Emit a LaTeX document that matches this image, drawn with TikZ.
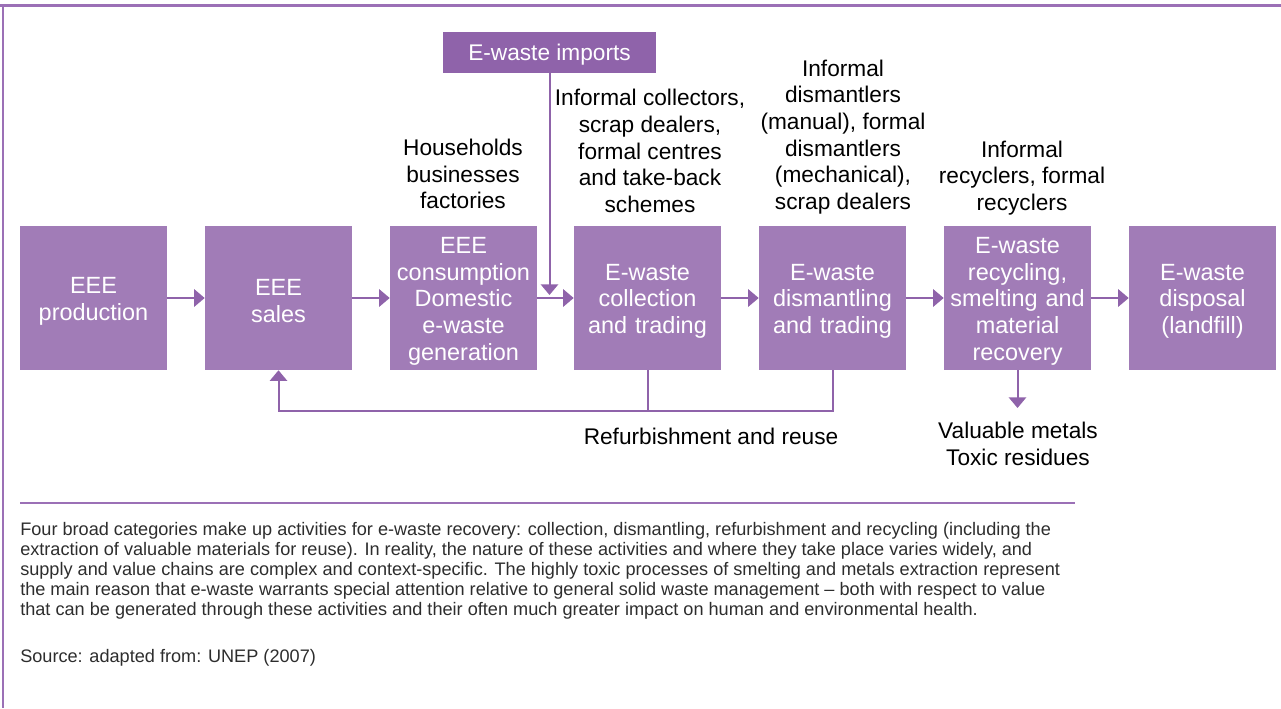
\documentclass[tikz,border=0pt]{standalone}
\usepackage{fontspec}
\setmainfont{Liberation Sans}
\usepackage{tikz}
\usetikzlibrary{arrows.meta,positioning}
\definecolor{boxpurple}{RGB}{161,124,183}
\definecolor{darkpurple}{RGB}{143,99,170}
\definecolor{framepurple}{RGB}{155,112,182}
\definecolor{captiongray}{RGB}{45,45,45}
\tikzstyle{block} = [rectangle,fill=boxpurple,text=white,minimum width=110.25pt,
  minimum height=108pt,text width=106pt,align=center,inner sep=0pt,
  text height=17pt,font=\fontsize{17.6}{20}\selectfont]

\begin{document}
\begin{tikzpicture}[
  x=0.75pt,y=-0.75pt,
  importbox/.style={rectangle,fill=darkpurple,text=white,minimum width=159.75pt,
    minimum height=30.75pt,inner sep=0pt,text depth=0pt,font=\fontsize{17}{20}\selectfont},
  note/.style={align=center,inner sep=0pt,font=\fontsize{17}{20}\selectfont},
  flow/.style={draw=darkpurple,line width=1.8pt,-{Triangle[length=8pt,width=13pt]}},
  loopline/.style={draw=darkpurple,line width=1.5pt},
  caption/.style={align=left,inner sep=0pt,text=captiongray,
    font=\fontsize{13.6}{15}\selectfont}
]
\useasboundingbox (0,0) rectangle (1281,708);
\draw[framepurple,line width=2.25pt] (0,5) -- (1281,5);
\draw[framepurple,line width=1.5pt] (3,5) -- (3,708);

\node[block] (prod) at (93.5,298) {EEE\\production};
\node[block] (sales) at (278.5,298) {EEE\\sales};
\node[block] (cons) at (463.5,298) {EEE\\consumption\\Domestic\\e-waste\\generation};
\node[block] (coll) at (647.5,298) {E-waste\\collection\\and trading};
\node[block] (dism) at (832.5,298) {E-waste\\dismantling\\and trading};
\node[block] (recy) at (1017.5,298) {E-waste\\recycling,\\smelting and\\material\\recovery};
\node[block] (disp) at (1202.5,298) {E-waste\\disposal\\(landfill)};

\node[importbox] (imports) at (549.5,52.5) {E-waste imports};

\node[note] (users) at (463,174) {Households\\businesses\\factories};
\node[note] (collectors) at (650,151) {Informal collectors,\\scrap dealers,\\formal centres\\and take-back\\schemes};
\node[note] (dismantlers) at (843,137) {Informal\\dismantlers\\(manual), formal\\dismantlers\\(mechanical),\\scrap dealers};
\node[note] (recyclers) at (1022,178) {Informal\\recyclers, formal\\recyclers};
\node[note] (reuse) at (711,436) {Refurbishment and reuse};
\node[note] (outputs) at (1018,444) {Valuable metals\\Toxic residues};

\draw[flow] (prod) -- (sales);
\draw[flow] (sales) -- (cons);
\draw[flow] (cons) -- (coll);
\draw[flow] (coll) -- (dism);
\draw[flow] (dism) -- (recy);
\draw[flow] (recy) -- (disp);

\coordinate (importend) at (549.5,295);
\draw[flow,line width=1.5pt] (imports) -- (importend);

\coordinate (loop) at (0,411);
\draw[loopline] (coll.south) -- (coll.south |- loop);
\draw[flow,line width=1.5pt] (dism.south) |- (sales.south |- loop) -- (sales.south);

\coordinate (residues) at (0,408);
\draw[flow,line width=1.5pt] (recy.south) -- (recy.south |- residues);

\draw[framepurple,line width=1pt] (20,503) -- (1075,503);

\node[caption,anchor=base west] (caption) at (20,615) {Four broad categories make up activities for e-waste recovery: collection, dismantling, refurbishment and recycling (including the\\
extraction of valuable materials for reuse). In reality, the nature of these activities and where they take place varies widely, and\\
supply and value chains are complex and context-specific. The highly toxic processes of smelting and metals extraction represent\\
the main reason that e-waste warrants special attention relative to general solid waste management -- both with respect to value\\
that can be generated through these activities and their often much greater impact on human and environmental health.};
\node[caption,anchor=base west] (source) at (20,662) {Source: adapted from: UNEP (2007)};
\end{tikzpicture}
\end{document}
